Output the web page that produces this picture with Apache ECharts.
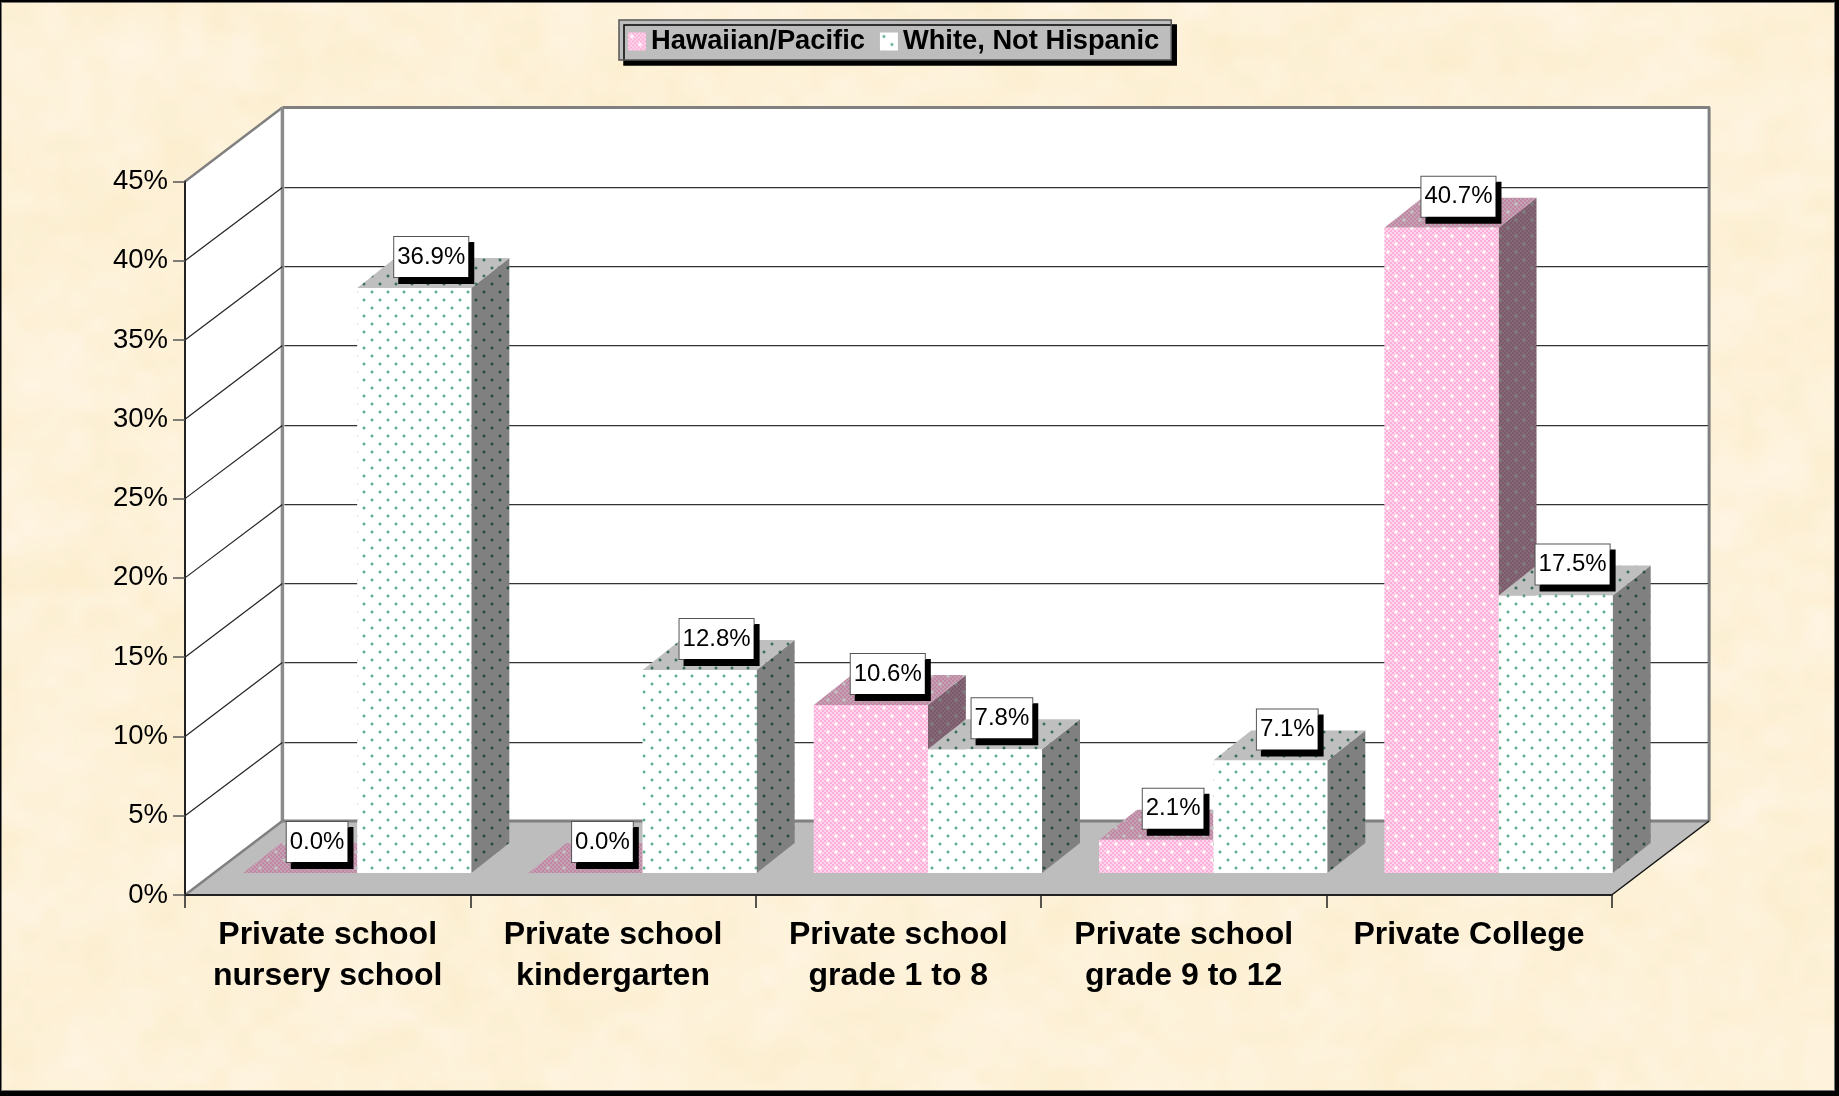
<!DOCTYPE html>
<html>
<head>
<meta charset="utf-8">
<style>html,body{margin:0;padding:0;background:#000}#c{width:1839px;height:1096px}</style>
<script src="https://cdn.jsdelivr.net/npm/echarts@6/dist/echarts.min.js"></script>
</head>
<body>
<div id="c"></div>
<script>
const categories = ['Private school\nnursery school','Private school\nkindergarten','Private school\ngrade 1 to 8','Private school\ngrade 9 to 12','Private College'];
const hawaiian = [0.0, 0.0, 10.6, 2.1, 40.7];
const white = [36.9, 12.8, 7.8, 7.1, 17.5];
const yTicks = [0, 5, 10, 15, 20, 25, 30, 35, 40, 45];
const seriesNames = ['Hawaiian/Pacific', 'White, Not Hispanic'];

const FONT = '"Liberation Sans", Arial, sans-serif';
const DEPTH = [97.4, -74];       // whole floor depth
const BAR_SHIFT = [29.5, -22];   // front face of bars, relative to axis plane
const BAR_DEPTH = [38, -30];     // depth of a bar
const BAR_FRAC = 0.4;            // one bar's share of a category band

function shade(c, f) { return `rgb(${Math.round(c[0]*f)},${Math.round(c[1]*f)},${Math.round(c[2]*f)})`; }
function tile(draw) { const t = document.createElement('canvas'); t.width = t.height = 16; draw(t.getContext('2d')); return {image: t, repeat: 'repeat'}; }
function dotsAt(fn) { for (const p of [[3,3],[11,11]]) fn(p[0], p[1]); }

function pinkPattern(f) {
  return tile(g => {
    g.fillStyle = shade([255,214,236], f); g.fillRect(0,0,16,16);
    g.fillStyle = shade([255,176,216], f);
    for (let y=0;y<16;y+=2) for (let x=0;x<16;x+=2) if (((x+y)/2)%2===0) g.fillRect(x,y,2,2);
    dotsAt((x,y) => {
      g.fillStyle = shade([255,255,255], f); g.fillRect(x,y,2,2);
      g.globalAlpha = .6; g.fillRect(x-1,y,4,2); g.fillRect(x,y-1,2,4); g.globalAlpha = 1;
    });
  });
}
function greenPattern(f) {
  return tile(g => {
    g.fillStyle = shade([255,255,255], f); g.fillRect(0,0,16,16);
    dotsAt((x,y) => {
      g.fillStyle = shade([95,175,140], f < 1 ? f*.85 : 1); g.fillRect(x,y,2,2);
      g.globalAlpha = .35; g.fillRect(x-1,y,4,2); g.fillRect(x,y-1,2,4); g.globalAlpha = 1;
    });
  });
}
const pinkFaces = {front: pinkPattern(1), top: pinkPattern(.76), side: pinkPattern(.5)};
const greenFaces = {front: greenPattern(1), top: greenPattern(.75), side: greenPattern(.5)};

// Parchment backdrop with the page's dark border
function parchment() {
  const W = 1839, H = 1096, sw = 460, sh = 274;
  const small = document.createElement('canvas'); small.width = sw; small.height = sh;
  const sg = small.getContext('2d'), img = sg.createImageData(sw, sh);
  const hash = (i,j) => { let h = (i*374761393 + j*668265263) | 0; h = Math.imul(h ^ (h>>>13), 1274126177); return ((h ^ (h>>>16))>>>0)/4294967295; };
  const sm = t => t*t*(3-2*t);
  const vn = (x,y) => { const i=Math.floor(x), j=Math.floor(y), u=sm(x-i), v=sm(y-j);
    return (hash(i,j)*(1-u)+hash(i+1,j)*u)*(1-v)+(hash(i,j+1)*(1-u)+hash(i+1,j+1)*u)*v; };
  for (let y=0;y<sh;y++) for (let x=0;x<sw;x++) {
    const a = vn(x/14,y/12)*.4 + vn(x/6+40,y/5+9)*.4 + vn(x/3+7,y/3+50)*.2 - .5;
    const k = (x+y*sw)*4;
    img.data[k]   = 253 + a*4;
    img.data[k+1] = 241 + a*8;
    img.data[k+2] = 216 + a*26;
    img.data[k+3] = 255;
  }
  sg.putImageData(img,0,0);
  const c = document.createElement('canvas'); c.width = W; c.height = H;
  const g = c.getContext('2d');
  g.fillStyle = '#000'; g.fillRect(0,0,W,H);
  g.fillStyle = '#777'; g.fillRect(1,2,1834,1089);
  g.imageSmoothingEnabled = true; g.imageSmoothingQuality = 'high';
  g.drawImage(small, 2, 3, 1832, 1087);
  return c;
}

function poly(points, fill, extra) { return Object.assign({type:'polygon', shape:{points}, style:{fill}}, extra||{}); }
function line(a, b, stroke, lineWidth) { return {type:'line', shape:{x1:a[0],y1:a[1],x2:b[0],y2:b[1]}, style:{stroke, lineWidth, fill:null}}; }

function renderFrame(params, api) {
  const band = api.size([1,0])[0];
  const lo = api.coord([0,0]), hi = api.coord([categories.length-1,45]);
  const x0 = lo[0]-band/2, x1 = hi[0]+band/2, y0 = lo[1], y1 = hi[1];
  const dx = DEPTH[0], dy = DEPTH[1];
  return {type:'group', children:[
    poly([[x0+dx,y1+dy],[x1+dx,y1+dy],[x1+dx,y0+dy],[x0+dx,y0+dy]], '#fff'),
    poly([[x0,y0],[x0,y1],[x0+dx,y1+dy],[x0+dx,y0+dy]], '#fff'),
    poly([[x0,y0],[x1,y0],[x1+dx,y0+dy],[x0+dx,y0+dy]], '#bdbdbd'),
    line([x0,y1],[x0+dx,y1+dy],'#808080',2.5),
    line([x0,y0],[x0+dx,y0+dy],'#808080',2.5),
    line([x0+dx,y1+dy],[x1+dx+1,y1+dy],'#808080',3),
    line([x0+dx,y1+dy],[x0+dx,y0+dy],'#8c8c8c',3.5),
    line([x1+dx,y1+dy],[x1+dx,y0+dy],'#808080',3),
    line([x0+dx,y0+dy],[x1+dx,y0+dy],'#808080',3),
    line([x1,y0],[x1+dx,y0+dy],'#111',1.5)
  ]};
}
function renderGrid(params, api) {
  const v = api.value(0);
  if (v === 0 || v === 45) return {type:'group', children:[]};
  const band = api.size([1,0])[0];
  const a = api.coord([0,v]), b = api.coord([categories.length-1,v]);
  const x0 = a[0]-band/2, x1 = b[0]+band/2, y = a[1];
  const bx = x0+DEPTH[0], by = Math.round(y+DEPTH[1])+.5;
  return {type:'group', children:[
    line([x0,y],[bx,by],'#222',1.2),
    line([bx+2,by+1],[x1+DEPTH[0]-1,by+1],'#c8c8c8',1),
    line([bx+2,by],[x1+DEPTH[0]-1,by],'#333',1.2)
  ]};
}
function barRenderer(faces, slot) {
  return function(params, api) {
    const i = api.value(0), v = api.value(1);
    const band = api.size([1,0])[0], w = band*BAR_FRAC;
    const c = api.coord([i,0]), t = api.coord([i,v]);
    const xl = c[0]+BAR_SHIFT[0]+(slot-1)*w, xr = xl+w;
    const yb = c[1]+BAR_SHIFT[1], yt = t[1]+BAR_SHIFT[1];
    const dx = BAR_DEPTH[0], dy = BAR_DEPTH[1];
    const kids = [
      poly([[xr,yb],[xr+dx,yb+dy],[xr+dx,yt+dy],[xr,yt]], faces.side),
      poly([[xl,yt],[xr,yt],[xr+dx,yt+dy],[xl+dx,yt+dy]], faces.top)
    ];
    if (v > 0) kids.push({type:'rect', shape:{x:xl,y:yt,width:w,height:yb-yt}, style:{fill:faces.front}});
    return {type:'group', children:kids};
  };
}
function labelRenderer(slot) {
  return function(params, api) {
    const i = api.value(0), v = api.value(1);
    const w = api.size([1,0])[0]*BAR_FRAC;
    const c = api.coord([i,0]), t = api.coord([i,v]);
    const cx = c[0]+BAR_SHIFT[0]+(slot-.5)*w+17;
    const cy = t[1]+BAR_SHIFT[1]-31;
    return {type:'text', style:{
      text: v.toFixed(1)+'%', x:cx, y:cy, align:'center', verticalAlign:'middle',
      font:'24px '+FONT, fill:'#000', backgroundColor:'#fff', borderColor:'#555', borderWidth:1,
      padding:[8,3,8,3], shadowColor:'#000', shadowBlur:0, shadowOffsetX:5, shadowOffsetY:6
    }};
  };
}
const idx = arr => arr.map((v,i)=>[i,v]);
function customBase(name, data, renderItem, z) {
  return {type:'custom', name, data, renderItem, z, clip:false, silent:true, animation:false, encode:{x:0,y:1}};
}

const chart = echarts.init(document.getElementById('c'), null, {renderer:'canvas', width:1839, height:1096});
chart.setOption({
  animation:false,
  backgroundColor:'transparent',
  graphic:[{type:'image', z:-10, silent:true, style:{image:parchment(), x:0, y:0, width:1839, height:1096}}],
  grid:{left:185, right:1839-1611.7, top:181.5, bottom:1096-895, containLabel:false},
  legend:{
    left:619, top:20, orient:'horizontal', itemWidth:18, itemHeight:18, itemGap:15,
    padding:[8,12,5,9], backgroundColor:'#bdbdbd', borderColor:'#555', borderWidth:1.5,
    shadowColor:'#000', shadowBlur:0, shadowOffsetX:5, shadowOffsetY:5,
    textStyle:{fontFamily:FONT, fontWeight:'bold', fontSize:27.3, color:'#000'},
    selectedMode:false,
    data:[
      {name:seriesNames[0], icon:'rect', itemStyle:{color:pinkFaces.front}},
      {name:seriesNames[1], icon:'rect', itemStyle:{color:greenFaces.front}}
    ]
  },
  xAxis:{type:'category', data:categories, z:6,
    axisLine:{lineStyle:{color:'#222',width:2}},
    axisTick:{show:true,length:13,alignWithLabel:false,lineStyle:{color:'#222',width:1.5}},
    axisLabel:{margin:20, interval:0, color:'#000', fontFamily:FONT, fontWeight:'bold', fontSize:32, lineHeight:41, verticalAlign:'top'}
  },
  yAxis:{type:'value', min:0, max:45, interval:5, z:6,
    axisLine:{show:true,lineStyle:{color:'#222',width:2}},
    axisTick:{show:true,length:12,lineStyle:{color:'#555',width:1.5}},
    splitLine:{show:false},
    axisLabel:{margin:17, color:'#000', fontFamily:FONT, fontSize:27.5, formatter:'{value}%'}
  },
  series:[
    customBase('frame', [[0,0]], renderFrame, 1),
    Object.assign(customBase('grid', yTicks.map(v=>[v]), renderGrid, 1.5), {encode:{y:0}}),
    Object.assign(customBase(seriesNames[0], idx(hawaiian), barRenderer(pinkFaces,0), 2), {itemStyle:{color:'#ffc0e0'}}),
    Object.assign(customBase(seriesNames[1], idx(white), barRenderer(greenFaces,1), 3), {itemStyle:{color:'#ffffff'}}),
    customBase('labels0', idx(hawaiian), labelRenderer(0), 7),
    customBase('labels1', idx(white), labelRenderer(1), 8)
  ]
});
</script>
</body>
</html>
